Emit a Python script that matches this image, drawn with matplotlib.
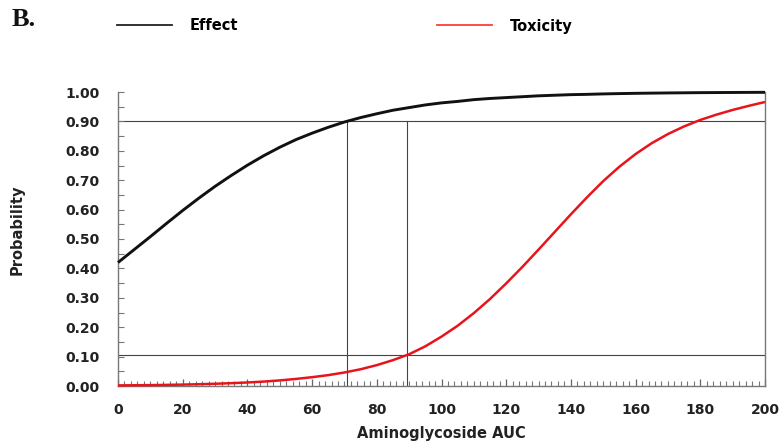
import matplotlib
matplotlib.use("Agg")
import matplotlib.pyplot as plt
from matplotlib.lines import Line2D
from matplotlib.ticker import MultipleLocator

# ---- data ----
auc = [0, 5, 10, 15, 20, 25, 30, 35, 40, 45, 50, 55, 60, 65, 70, 75, 80, 85, 90, 95,
       100, 105, 110, 115, 120, 125, 130, 135, 140, 145, 150, 155, 160, 165, 170, 175,
       180, 185, 190, 195, 200]
effect = [0.420, 0.464, 0.508, 0.553, 0.597, 0.639, 0.679, 0.716, 0.751, 0.783,
          0.812, 0.838, 0.860, 0.880, 0.898, 0.913, 0.926, 0.938, 0.947, 0.956,
          0.963, 0.968, 0.974, 0.978, 0.981, 0.984, 0.987, 0.989, 0.991, 0.992,
          0.9935, 0.9946, 0.9955, 0.9962, 0.9968, 0.9973, 0.9978, 0.9981, 0.9984,
          0.9987, 0.9989]
toxicity = [0.002, 0.0025, 0.003, 0.0038, 0.0048, 0.006, 0.0076, 0.0096, 0.012, 0.015,
            0.019, 0.024, 0.030, 0.037, 0.046, 0.057, 0.071, 0.088, 0.108, 0.135,
            0.168, 0.205, 0.248, 0.296, 0.349, 0.405, 0.464, 0.524, 0.584, 0.642,
            0.697, 0.746, 0.789, 0.826, 0.857, 0.883, 0.905, 0.923, 0.939, 0.953,
            0.966]
target_prob = [0.90, 0.105]          # horizontal reference lines
target_auc = [70.7, 89.2]            # vertical reference lines
x_ticks = [0, 20, 40, 60, 80, 100, 120, 140, 160, 180, 200]
y_ticks = [0.0, 0.1, 0.2, 0.3, 0.4, 0.5, 0.6, 0.7, 0.8, 0.9, 1.0]

plt.rcParams['font.family'] = ['DejaVu Sans']

fig = plt.figure(figsize=(7.83, 4.45), dpi=100)
ax = fig.add_axes([118/783, 1-386/445, (765-118)/783, (386-92)/445])

ref_col = '#444444'
# reference lines
ax.plot([0, 200], [target_prob[0]] * 2, color=ref_col, lw=0.8, zorder=1)
ax.plot([0, 200], [target_prob[1]] * 2, color=ref_col, lw=0.8, zorder=1)
ax.plot([target_auc[0]] * 2, [0, target_prob[0]], color=ref_col, lw=0.8, zorder=1)
ax.plot([target_auc[1]] * 2, [0, target_prob[0]], color=ref_col, lw=0.8, zorder=1)

# curves
ax.plot(auc, effect, color='#111111', lw=2.1, zorder=3, clip_on=False, solid_capstyle='butt')
ax.plot(auc, toxicity, color='#e8141c', lw=1.8, zorder=3, clip_on=False, solid_capstyle='butt')

ax.set_xlim(0, 200)
ax.set_ylim(0, 1.0)
ax.set_xticks(x_ticks)
ax.set_yticks(y_ticks)
ax.set_xticklabels([str(v) for v in x_ticks])
ax.set_yticklabels([f"{v:.2f}" for v in y_ticks])
ax.xaxis.set_minor_locator(MultipleLocator(2))
ax.yaxis.set_minor_locator(MultipleLocator(0.05))

spine_col = '#777777'
for s in ['left', 'right', 'bottom']:
    ax.spines[s].set_color(spine_col)
    ax.spines[s].set_linewidth(1.0)
ax.spines['top'].set_visible(False)

ax.tick_params(axis='y', which='both', direction='in', length=4, width=0.8,
               color=spine_col, pad=13, labelsize=10, labelcolor='#222222')
ax.tick_params(axis='x', which='major', direction='in', length=5, width=0.9,
               color='#666666', pad=12, labelsize=10, labelcolor='#222222')
ax.tick_params(axis='x', which='minor', direction='in', length=3.5, width=0.8,
               color='#777777')
for lab in ax.get_xticklabels() + ax.get_yticklabels():
    lab.set_fontweight('bold')

ax.set_xlabel('Aminoglycoside AUC', fontsize=10.5, fontweight='bold', color='#222222',
              labelpad=7)
ax.set_ylabel('Probability', fontsize=10.5, fontweight='bold', color='#222222')
ax.yaxis.set_label_coords(-0.145, 0.53)

# legend
handles = [Line2D([], [], color='#222222', lw=1.3),
           Line2D([], [], color='#ff3b3b', lw=1.3)]
fig.legend(handles, ['Effect', 'Toxicity'], loc='center left',
           bbox_to_anchor=(117/783, 1-26/445), ncol=2, frameon=False,
           handlelength=3.8, handletextpad=1.2, columnspacing=13.6,
           borderpad=0, borderaxespad=0,
           prop={'family': 'DejaVu Sans', 'weight': 'bold', 'size': 10.5})

fig.text(12/783, 1-19/445, 'B.', fontsize=19, fontweight='bold',
         family='Liberation Serif', va='center', ha='left', color='#111111')

fig.savefig('out.png', dpi=100)
